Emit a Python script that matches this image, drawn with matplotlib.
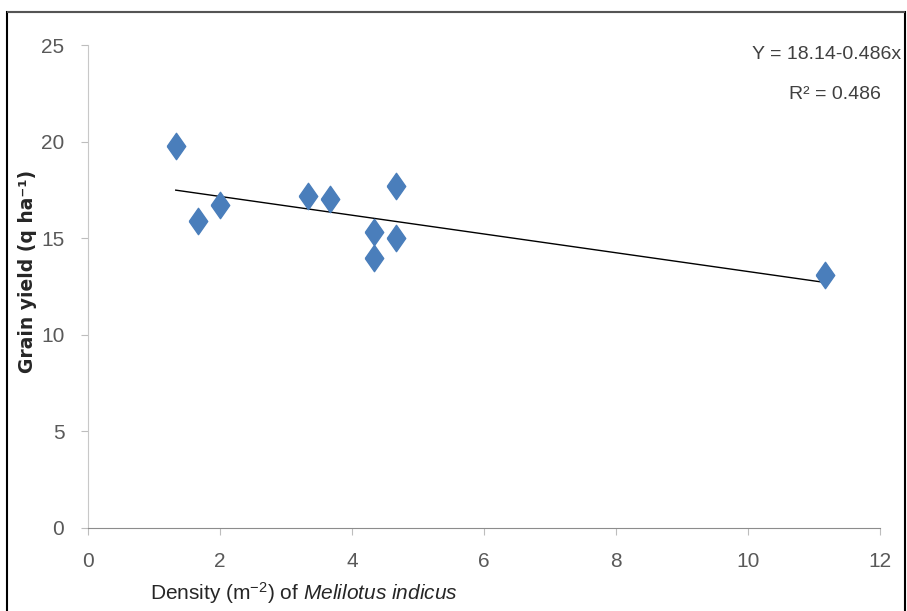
import numpy as np
import matplotlib.pyplot as plt
from matplotlib.patches import Rectangle

plt.rcParams['font.family'] = ['Liberation Sans', 'DejaVu Sans']
plt.rcParams['mathtext.fontset'] = 'custom'
plt.rcParams['mathtext.rm'] = 'Liberation Sans'
plt.rcParams['mathtext.it'] = 'Liberation Sans:italic'

# weed density (plants m-2) and grain yield (q ha-1)
density = [1.33, 1.67, 2.0, 3.33, 3.67, 4.33, 4.33, 4.67, 4.67, 11.17]
grain_yield = [19.8, 15.9, 16.7, 17.2, 17.05, 15.3, 14.0, 17.7, 15.0, 13.1]

intercept = 18.14
slope = -0.486
r2 = 0.486

fig = plt.figure(figsize=(9.07, 6.11), dpi=100)
ax = fig.add_axes([0.097, 0.136, 0.873, 0.790])

diamond = [(-0.7, 0), (0, 1), (0.7, 0), (0, -1), (-0.7, 0)]
ax.plot(density, grain_yield, linestyle='none', marker=diamond,
        markersize=19, color='#4a7ebb', markeredgecolor='#4a7ebb', zorder=3)

xs = np.array([min(density), max(density)])
ax.plot(xs, intercept + slope * xs, color='black', linewidth=1.0, zorder=2)

ax.set_xlim(0, 12)
ax.set_ylim(0, 25)
ax.set_xticks(range(0, 13, 2))
ax.set_yticks(range(0, 26, 5))

for side in ['top', 'right']:
    ax.spines[side].set_visible(False)
ax.spines['left'].set_color('#c8c8c8')
ax.spines['bottom'].set_color('#8c8c8c')
ax.tick_params(axis='both', direction='out', length=5, colors='#bdbdbd',
               labelcolor='#595959', labelsize=15)
ax.tick_params(axis='x', pad=12)
ax.tick_params(axis='y', pad=12)

fig.text(0.03, 0.555, 'Grain yield (q ha⁻¹)', rotation=90,
         ha='center', va='center', fontsize=13.5, fontweight='bold',
         family='DejaVu Sans', color='#262626')
fig.text(0.165, 0.03, r'Density (m$^{-2}$) of $\it{Melilotus\ indicus}$',
         ha='left', va='center', fontsize=15, color='#262626')

fig.text(0.994, 0.91, 'Y = 18.14-0.486x', ha='right', va='center',
         fontsize=14, color='#404040')
fig.text(0.92, 0.845, 'R² = %.3f' % r2, ha='center', va='center',
         fontsize=14, color='#404040')

# outer frame
fig.patches.append(Rectangle((0.008, -0.01), 0.99, 0.99, transform=fig.transFigure,
                             fill=False, edgecolor='black', linewidth=1.5))
fig.patches.append(Rectangle((0.008, 0.978), 0.99, 0.004, transform=fig.transFigure,
                             facecolor='#555555', edgecolor='none'))

fig.savefig('out.png', dpi=100)
